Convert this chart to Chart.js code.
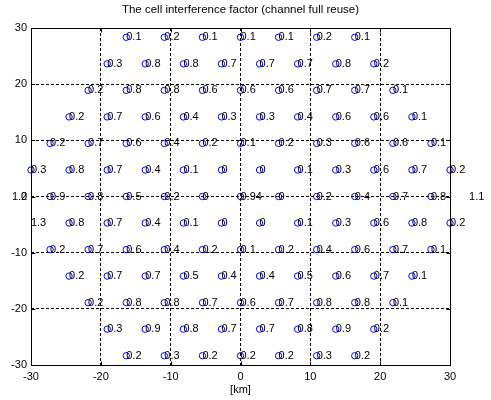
<!DOCTYPE html>
<html><head><meta charset="utf-8">
<script src="https://cdn.jsdelivr.net/npm/chart.js@4"></script>
<style>html,body{margin:0;padding:0;background:#fff;} canvas{display:block;}</style>
</head><body>
<canvas id="c" width="491" height="400"></canvas>
<script>
const titleText = 'The cell interference factor (channel full reuse)';
const xAxisLabel = '[km]';
const axisMin = -30, axisMax = 30, axisStep = 10;

// cell centre rows (km), top to bottom
const rowY = [28.35, 23.62, 18.9, 14.17, 9.45, 4.72, 0, -4.72, -9.45, -14.17, -18.9, -23.62, -28.35];
const rowX = [
  [-16.36,-10.91,-5.45,0,5.45,10.91,16.36],
  [-19.09,-13.64,-8.18,-2.73,2.73,8.18,13.64,19.09],
  [-21.82,-16.36,-10.91,-5.45,0,5.45,10.91,16.36,21.82],
  [-24.55,-19.09,-13.64,-8.18,-2.73,2.73,8.18,13.64,19.09,24.55],
  [-27.27,-21.82,-16.36,-10.91,-5.45,0,5.45,10.91,16.36,21.82,27.27],
  [-30,-24.55,-19.09,-13.64,-8.18,-2.73,2.73,8.18,13.64,19.09,24.55,30],
  [-32.73,-27.27,-21.82,-16.36,-10.91,-5.45,0,5.45,10.91,16.36,21.82,27.27,32.73],
  [-30.01,-24.55,-19.09,-13.64,-8.18,-2.73,2.73,8.18,13.64,19.09,24.55,30],
  [-27.27,-21.82,-16.36,-10.91,-5.45,0,5.45,10.91,16.36,21.82,27.27],
  [-24.55,-19.09,-13.64,-8.18,-2.73,2.73,8.18,13.64,19.09,24.55],
  [-21.82,-16.36,-10.91,-5.45,0,5.45,10.91,16.36,21.82],
  [-19.09,-13.64,-8.18,-2.73,2.73,8.18,13.64,19.09],
  [-16.36,-10.91,-5.45,0,5.45,10.91,16.36]
];
// interference factor per cell
const rowValues = [
  [0.1,0.2,0.1,0.1,0.1,0.2,0.1],
  [0.3,0.8,0.8,0.7,0.7,0.7,0.8,0.2],
  [0.2,0.8,0.8,0.6,0.6,0.6,0.7,0.7,0.1],
  [0.2,0.7,0.6,0.4,0.3,0.3,0.4,0.6,0.6,0.1],
  [0.2,0.7,0.6,0.4,0.2,0.1,0.2,0.3,0.6,0.6,0.1],
  [0.3,0.8,0.7,0.4,0.1,0,0,0.1,0.3,0.6,0.7,0.2],
  [1.2,0.9,0.8,0.5,0.2,0,0.94,0,0.2,0.4,0.7,0.8,1.1],
  [1.3,0.8,0.7,0.4,0.1,0,0,0.1,0.3,0.6,0.8,0.2],
  [0.2,0.7,0.6,0.4,0.2,0.1,0.2,0.4,0.6,0.7,0.1],
  [0.2,0.7,0.7,0.5,0.4,0.4,0.5,0.6,0.7,0.1],
  [0.2,0.8,0.8,0.7,0.6,0.7,0.8,0.8,0.1],
  [0.3,0.9,0.8,0.7,0.7,0.8,0.9,0.2],
  [0.2,0.3,0.2,0.2,0.2,0.3,0.2]
];

const points = [];
rowY.forEach((y, r) => rowX[r].forEach((x, i) => points.push({x: x, y: y, v: rowValues[r][i]})));

const FONT = '"Liberation Sans", Arial, sans-serif';

const cellLabels = {
  id: 'cellLabels',
  afterDatasetsDraw(chart) {
    const ctx = chart.ctx, xs = chart.scales.x, ys = chart.scales.y;
    ctx.save();
    ctx.font = '11px ' + FONT;
    ctx.fillStyle = '#000';
    ctx.textAlign = 'left';
    ctx.textBaseline = 'middle';
    chart.data.datasets[0].data.forEach(p => {
      ctx.fillText(String(p.v), xs.getPixelForValue(p.x), ys.getPixelForValue(p.y));
    });
    ctx.restore();
  }
};

const frame = {
  id: 'frame',
  afterDraw(chart) {
    const ctx = chart.ctx, a = chart.chartArea, xs = chart.scales.x, ys = chart.scales.y;
    const L = Math.round(a.left) + 0.5, R = Math.round(a.right) + 0.5;
    const T = Math.round(a.top) + 0.5, B = Math.round(a.bottom) + 0.5;
    const tl = 4;
    ctx.save();
    ctx.strokeStyle = '#000';
    ctx.lineWidth = 1;
    ctx.setLineDash([]);
    ctx.strokeRect(L, T, R - L, B - T);
    ctx.beginPath();
    xs.ticks.forEach(t => {
      const px = Math.round(xs.getPixelForValue(t.value)) + 0.5;
      ctx.moveTo(px, B); ctx.lineTo(px, B - tl);
      ctx.moveTo(px, T); ctx.lineTo(px, T + tl);
    });
    ys.ticks.forEach(t => {
      const py = Math.round(ys.getPixelForValue(t.value)) + 0.5;
      ctx.moveTo(L, py); ctx.lineTo(L + tl, py);
      ctx.moveTo(R, py); ctx.lineTo(R - tl, py);
    });
    ctx.stroke();
    ctx.restore();
  }
};

const gridColor = c => (c.tick && (c.tick.value === axisMin || c.tick.value === axisMax)) ? 'rgba(0,0,0,0)' : '#000';

new Chart(document.getElementById('c'), {
  type: 'scatter',
  data: {
    datasets: [{
      data: points,
      showLine: false,
      pointStyle: 'circle',
      pointBorderColor: '#0000ff',
      pointBackgroundColor: 'rgba(0,0,0,0)',
      pointBorderWidth: 1,
      pointRadius: c => {
        const s = c.chart.scales.x;
        const v = c.raw;
        if (!v || !s) return 3.2;
        return (v.x < s.min || v.x > s.max) ? 0 : 3.2;
      },
      pointHoverRadius: 3.2,
      clip: false
    }]
  },
  options: {
    responsive: false,
    animation: false,
    events: [],
    layout: { padding: { left: 0, right: 41, top: 0, bottom: 0 } },
    plugins: {
      legend: { display: false },
      tooltip: { enabled: false },
      title: {
        display: true,
        text: titleText,
        color: '#000',
        fullSize: false,
        font: { family: FONT, size: 11.5, weight: 'normal' },
        padding: { top: 2.5, bottom: 11.7 }
      }
    },
    scales: {
      x: {
        type: 'linear',
        min: axisMin, max: axisMax,
        ticks: { stepSize: axisStep, color: '#000', padding: 5, maxRotation: 0, autoSkip: false, font: { family: FONT, size: 11 } },
        grid: { color: gridColor, lineWidth: 1, drawTicks: false },
        border: { display: false, dash: [3, 2] },
        title: { display: true, text: xAxisLabel, color: '#000', font: { family: FONT, size: 11 }, padding: { top: 0, bottom: 3.4 } },
        afterFit: s => { s.height = 35; }
      },
      y: {
        type: 'linear',
        min: axisMin, max: axisMax,
        ticks: { stepSize: axisStep, color: '#000', padding: 4, autoSkip: false, font: { family: FONT, size: 11 } },
        grid: { color: gridColor, lineWidth: 1, drawTicks: false },
        border: { display: false, dash: [3, 2] },
        afterFit: s => { s.width = 31; }
      }
    }
  },
  plugins: [cellLabels, frame]
});
</script>
</body></html>
